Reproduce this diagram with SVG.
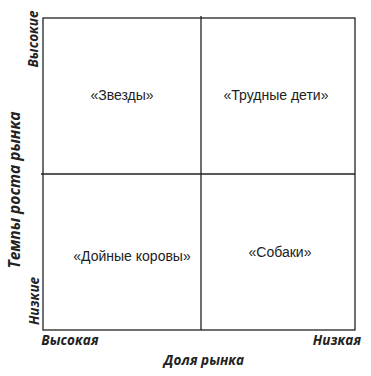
<svg xmlns="http://www.w3.org/2000/svg" width="371" height="376" viewBox="0 0 371 376">
<style>
.ln{stroke:#222;stroke-width:1.3;fill:none}
.q{font-family:"Liberation Sans",Arial,sans-serif;font-size:14px;fill:#222;text-anchor:middle}
.ax{font-family:"Open Sans","Noto Sans",sans-serif;font-size:13.5px;font-weight:bold;font-style:italic;fill:#222;text-anchor:middle}
</style>
<rect width="371" height="376" fill="#fff"/>
<g id="connectors">
<rect class="ln" x="43" y="18" width="312" height="312"/>
<line class="ln" x1="201" y1="16" x2="201" y2="330"/>
<line class="ln" x1="41" y1="174" x2="355" y2="174"/>
</g>
<g id="stars"><text class="q" x="122" y="100">«Звезды»</text></g>
<g id="problem-children"><text class="q" x="276" y="100">«Трудные дети»</text></g>
<g id="cash-cows"><text class="q" x="132" y="261">«Дойные коровы»</text></g>
<g id="dogs"><text class="q" x="280" y="257">«Собаки»</text></g>
<g id="axis-y">
<text class="ax" transform="translate(38,39) rotate(-90)">Высокие</text>
<text class="ax" transform="translate(20,190) rotate(-90)" style="font-size:15.5px">Темпы роста рынка</text>
<text class="ax" transform="translate(39,301) rotate(-90)">Низкие</text>
</g>
<g id="axis-x">
<text class="ax" x="70" y="345">Высокая</text>
<text class="ax" x="337" y="345">Низкая</text>
<text class="ax" x="204" y="365">Доля рынка</text>
</g>
</svg>
